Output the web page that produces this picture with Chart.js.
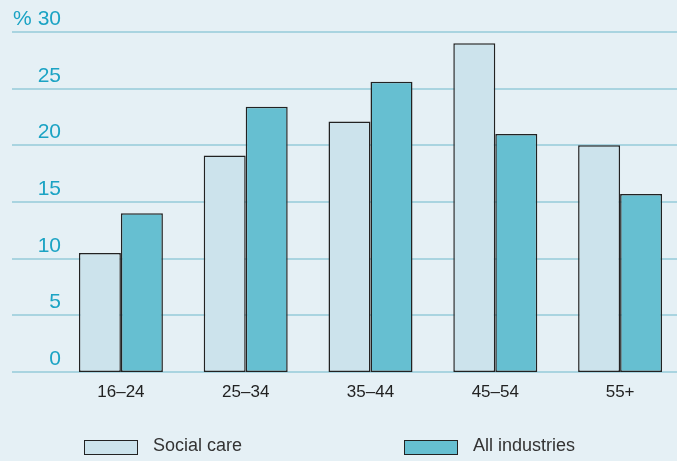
<!DOCTYPE html>
<html>
<head>
<meta charset="utf-8">
<script src="https://cdn.jsdelivr.net/npm/chart.js@4"></script>
<style>
  body { margin: 0; background: #e5f0f5; }
  #wrap { position: relative; width: 677px; height: 461px; overflow: hidden; background: #e5f0f5; }
  #myChart { position: absolute; left: 0; top: 0; }
  .leg { position: absolute; top: 435px; font-family: "Liberation Sans", Arial, sans-serif; font-size: 18px; color: #333; }
  .leg span.box { position: absolute; top: 5px; width: 52px; height: 13px; border: 1.5px solid #222; }
  .leg span.txt { position: absolute; white-space: nowrap; top: 0px; }
</style>
</head>
<body>
<div id="wrap">
  <canvas id="myChart" width="700" height="461" style="width:700px;height:461px"></canvas>
  <div class="leg" style="left:84px"><span class="box" style="background:#cce3ec"></span><span class="txt" style="left:69px">Social care</span></div>
  <div class="leg" style="left:404px"><span class="box" style="background:#66bfd1"></span><span class="txt" style="left:69px">All industries</span></div>
</div>
<script>
// dados (% de trabalhadores por faixa etária)
const ageGroups = ['16–24', '25–34', '35–44', '45–54', '55+'];
const socialCare = [10.5, 19.1, 22.1, 29.0, 20.0];
const allIndustries = [14.0, 23.4, 25.6, 21.0, 15.7];
const yTicks = [0, 5, 10, 15, 20, 25, 30];

const fontFamily = '"Liberation Sans", Arial, sans-serif';

// linhas de grade e rótulos desenhados à mão (começam fora da área do gráfico)
const gridPlugin = {
    id: 'gridLabels',
    beforeDatasetsDraw(chart) {
        const ctx = chart.ctx;
        const y = chart.scales.y;
        ctx.save();
        ctx.strokeStyle = '#a9d4e0';
        ctx.lineWidth = 2;
        yTicks.forEach(v => {
            const py = Math.round(y.getPixelForValue(v));
            ctx.beginPath();
            ctx.moveTo(12, py);
            ctx.lineTo(chart.width, py);
            ctx.stroke();
        });
        ctx.fillStyle = '#1ba3c4';
        ctx.font = '21px ' + fontFamily;
        ctx.textAlign = 'right';
        ctx.textBaseline = 'alphabetic';
        yTicks.forEach(v => {
            const py = y.getPixelForValue(v);
            ctx.fillText(String(v), 61, py - 7);
        });
        ctx.textAlign = 'left';
        ctx.fillText('%', 13, y.getPixelForValue(30) - 7);
        ctx.restore();
    },
    afterDatasetsDraw(chart) {
        const ctx = chart.ctx;
        const x = chart.scales.x;
        const y = chart.scales.y;
        ctx.save();
        ctx.fillStyle = '#222';
        ctx.font = '17px ' + fontFamily;
        ctx.textAlign = 'center';
        ctx.textBaseline = 'alphabetic';
        ageGroups.forEach((g, i) => {
            ctx.fillText(g, x.getPixelForTick(i), y.getPixelForValue(0) + 25);
        });
        ctx.restore();
    }
};

const ctx = document.getElementById('myChart').getContext('2d');
const myChart = new Chart(ctx, {
    type: 'bar',
    data: {
        labels: ageGroups,
        datasets: [{
            label: 'Social care',
            data: socialCare,
            backgroundColor: '#cce3ec',
            borderColor: '#222',
            borderWidth: 1.5,
            borderSkipped: false
        }, {
            label: 'All industries',
            data: allIndustries,
            backgroundColor: '#66bfd1',
            borderColor: '#222',
            borderWidth: 1.5,
            borderSkipped: false
        }]
    },
    options: {
        responsive: false,
        animation: false,
        devicePixelRatio: 1,
        layout: { padding: { left: 58.5, right: 17.5, top: 32, bottom: 89 } },
        datasets: { bar: { categoryPercentage: 0.673, barPercentage: 1 } },
        scales: {
            x: { display: false, offset: true },
            y: { display: false, min: 0, max: 30 }
        },
        plugins: {
            legend: { display: false },
            tooltip: { enabled: false }
        }
    },
    plugins: [gridPlugin]
});
</script>
</body>
</html>
